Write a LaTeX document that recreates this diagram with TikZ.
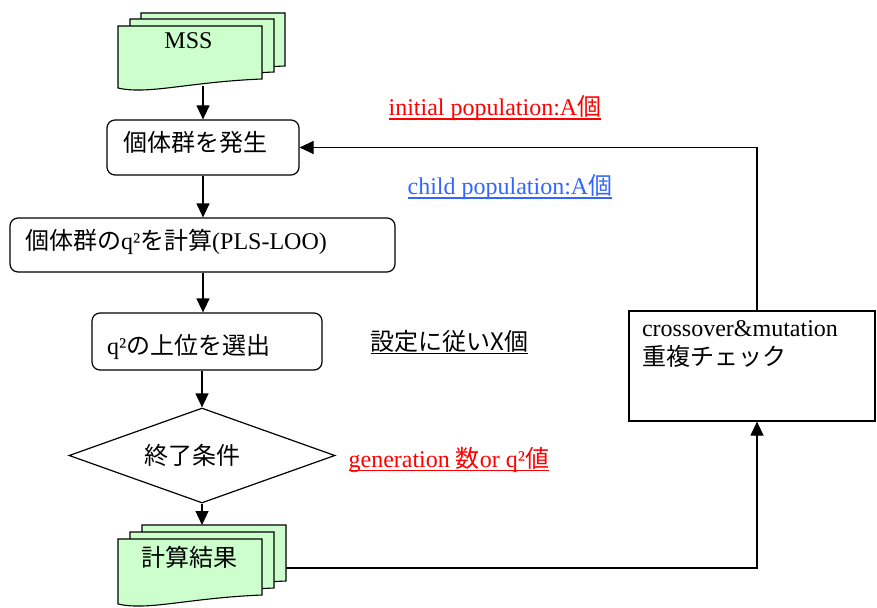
\documentclass[tikz,border=0pt]{standalone}
\usepackage{fontspec}
\setmainfont{Liberation Serif}
\newfontfamily\jp{Noto Sans CJK JP}
\usetikzlibrary{shapes.geometric,arrows.meta}
\definecolor{docgreen}{RGB}{204,255,204}
\definecolor{lblred}{RGB}{255,0,0}
\definecolor{lblblue}{RGB}{51,102,255}
\newcommand\myul[2]{\setbox0\hbox{#2}\rlap{\rule[-#1]{\wd0}{1.2pt}}\box0}
\newcommand\mydocpage[3]{%
  \begin{scope}[shift={(#1,#2)}]
    \filldraw[docpage] (0,0) -- (144,0) -- (144,{53+#3}) .. controls (70,{56+#3}) and (30,{69+#3}) .. (0,{62+#3}) -- cycle;
  \end{scope}}
\begin{document}
\begin{tikzpicture}[x=1pt,y=-1pt, line width=1.2pt,
  every node/.style={font=\fontsize{24}{29}\selectfont},
  arr/.style={-{Triangle[length=14pt,width=13pt]}},
  rbox/.style={draw, rounded corners=8pt, align=left, fill=white},
  sbox/.style={draw, align=left, fill=white},
  docpage/.style={fill=docgreen, draw=black, line width=1.1pt},
  lbl/.style={inner sep=0pt, anchor=base west}]
\useasboundingbox (0,0) rectangle (877,607);

% MSS document stack
\mydocpage{141}{13}{0}
\mydocpage{130}{19}{0}
\mydocpage{118}{26}{0}
\node (mss) at (188.5,41) {MSS};
\coordinate (mssb) at (203,86);

% process boxes
\node[rbox, text width=160pt, inner xsep=16pt, minimum height=55pt, text height=16.6pt, text depth=9.4pt] (gen) at (203,147.5) {\jp 個体群を発生};
\node[rbox, text width=355pt, inner xsep=15pt, minimum height=54pt, text height=17.1pt, text depth=8.9pt] (calc) at (202.5,245) {{\jp 個体群の}q²{\jp を計算}(PLS-LOO)};
\node[rbox, text width=200pt, inner xsep=15pt, minimum height=57pt, text height=25.6pt, text depth=0.4pt] (sel) at (207,341.5) {q²{\jp の上位を選出}};
\node[diamond, draw, aspect=2.8, minimum width=266pt, minimum height=95pt, inner sep=0pt, text width=116pt, align=left] (end) at (202,455.5) {\jp 終了条件};

% result document stack
\mydocpage{142}{525}{3}
\mydocpage{130}{532}{3}
\mydocpage{118}{539}{3}
\node (res) at (189.5,557.5) {\jp 計算結果};
\coordinate (restop) at (202,525);
\coordinate (resr) at (286,568);

% crossover box
\node[sbox, text width=220pt, inner xsep=13pt, minimum height=110pt, text height=5pt, text depth=65pt] (co) at (752,366) {crossover\&mutation\\{\jp 重複チェック}};

% connectors
\draw[arr] (mssb) -- (mssb |- gen.north);
\draw[arr] (gen.south) -- (gen.south |- calc.north);
\draw[arr] (calc.south -| gen.south) -- (sel.north -| gen.south);
\draw[arr] (sel.south -| end.north) -- (end.north);
\draw[arr] (end.south) -- (restop);
\coordinate (c1) at (757,568);
\coordinate (c2) at (757,147.5);
\draw[arr] (resr) -- (c1) -- (c1 |- co.south);
\draw[arr] (co.north -| c2) -- (c2) -- (gen.east);

% labels
\node[lbl, text=lblred] (initl) at (388,115) {\myul{4.6pt}{initial population:A{\jp 個}}};
\node[lbl, text=lblblue] (childl) at (407,194) {\myul{4.6pt}{child population:A{\jp 個}}};
\node[lbl] (setl) at (370,350.5) {\myul{3.5pt}{\jp 設定に従いX個}};
\node[lbl, text=lblred] (genl) at (348,467) {\myul{4.2pt}{generation {\jp 数}or q²{\jp 値}}};
\end{tikzpicture}
\end{document}
